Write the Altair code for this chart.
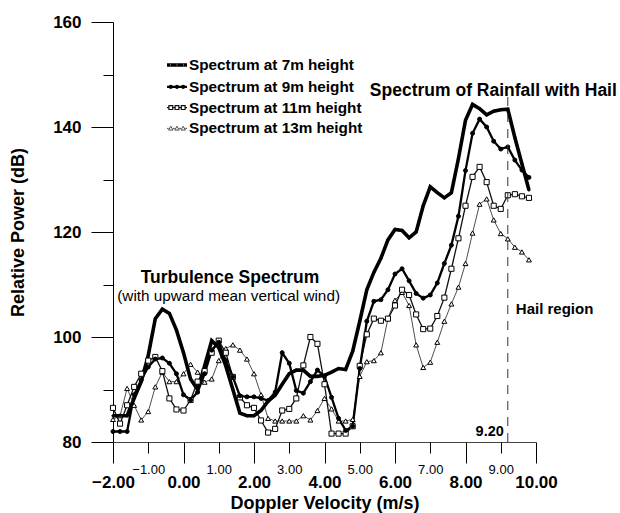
import altair as alt
import pandas as pd

# ---- data ----
velocity = [-2.0, -1.8, -1.6, -1.4, -1.2, -1.0, -0.8, -0.6, -0.4, -0.2,
            0.0, 0.2, 0.4, 0.6, 0.8, 1.0, 1.2, 1.4, 1.6, 1.8,
            2.0, 2.2, 2.4, 2.6, 2.8, 3.0, 3.2, 3.4, 3.6, 3.8,
            4.0, 4.2, 4.4, 4.6, 4.8, 5.0, 5.2, 5.4, 5.6, 5.8,
            6.0, 6.2, 6.4, 6.6, 6.8, 7.0, 7.2, 7.4, 7.6, 7.8,
            8.0, 8.2, 8.4, 8.6, 8.8, 9.0, 9.2, 9.4, 9.6, 9.8]

power_7m = [85, 85, 85, 88.3, 91.5, 96.5, 103.5, 105.3, 104.5, 101.3,
            97, 92, 90, 94.5, 99.3, 98, 94.5, 90, 85.5, 85,
            85, 86, 87.8, 88.9, 91, 93, 93.7, 93.7, 92.5, 92.5,
            92.7, 93.3, 94, 93.8, 97.3, 103, 109, 112.3, 115, 118.5,
            120.5, 120.3, 118.9, 120, 125, 128.6, 127.5, 126.5, 127.5, 134,
            141.3, 144.3, 143.5, 142.3, 143, 143.3, 143.4, 138, 133, 128]

power_9m = [82, 82, 82, 89, 91.8, 94.3, 95.8, 96, 95, 93,
            89, 88, 89.5, 93, 97.5, 99, 95.5, 92.4, 88.8, 88.6,
            88.6, 88.3, 87.9, 89.5, 97, 95, 89.8, 89.3, 91.5, 93.7,
            92.5, 88.5, 84.5, 82.2, 83, 94, 103, 106.8, 107.1, 109,
            112, 113, 110.7, 108.3, 107.4, 108, 110.3, 114, 117.5, 123,
            131.7, 138.8, 141.5, 140, 137.3, 135.8, 136.2, 133.7, 131.8, 130.4]

power_11m = [86.5, 83.5, 87, 90.5, 93, 95.5, 96.2, 93.5, 88.3, 86.2,
             86, 88, 91.5, 93.5, 97, 99.3, 97, 92.4, 88.5, 87,
             86.5, 84.1, 81.8, 82.5, 86, 86.3, 88.3, 94.6, 100, 98.7,
             91, 81.6, 81.6, 81.6, 83, 94.5, 100.5, 103.5, 103.1, 103.5,
             106, 109, 108, 104.3, 101.5, 101.6, 104, 107.5, 113, 118.8,
             125, 130.5, 132.4, 129.5, 125, 124.4, 127, 127.2, 126.8, 126.5]

power_13m = [84.3, 85, 90.2, 87, 84.2, 85.8, 90.5, 93.3, 91.5, 91.5,
             93, 94.8, 93.3, 91.4, 92, 95.5, 97.8, 98.5, 97.5, 95.8,
             93, 89, 84.5, 84, 84, 84, 84, 85, 84.2, 86,
             88.3, 86.3, 84, 84, 84.3, 92.5, 95.3, 95.5, 97, 103.5,
             107, 108.5, 106, 98.5, 94.2, 95.2, 99, 103, 106.3, 109.5,
             114, 119.8, 125.3, 126.3, 122.3, 119.7, 118.7, 117.1, 116.2, 114.7]

series_names = ["Spectrum at 7m height", "Spectrum at 9m height",
                "Spectrum at 11m height", "Spectrum at 13m height"]
x_ticks_major = [-2, 0, 2, 4, 6, 8, 10]
x_ticks_minor = [-1, 1, 3, 5, 7, 9]
y_ticks = [80, 90, 100, 110, 120, 130, 140, 150, 160]

series_values = [power_7m, power_9m, power_11m, power_13m]
rows = []
# 13 m first so that the 7 m curve is drawn on top
for name, vals in reversed(list(zip(series_names, series_values))):
    for v, p in zip(velocity, vals):
        rows.append({"velocity": v, "power": p, "series": name})
df = pd.DataFrame(rows)
one = pd.DataFrame({"_": [0]})

FONT = "Liberation Sans"

# ---- styles ----
line_colors = ["#000000", "#000000", "#111111", "#3a3a3a"]
line_widths = [3.6, 2.3, 1.3, 0.9]
point_shapes = ["circle", "circle", "square", "triangle-up"]
point_fills = ["#000000", "#000000", "#ffffff", "#ffffff"]
point_sizes = [5, 16, 26, 24]
MX = (-0.62, 0.0, 0.62)


def joined(h, marker):
    segs = [(-1.0, MX[0] - h), (MX[0] + h, MX[1] - h), (MX[1] + h, MX[2] - h), (MX[2] + h, 1.0)]
    line = "".join(f"M{a:.3f},0H{b:.3f}" for a, b in segs)
    return line + "".join(marker(x, h) for x in MX)


def circle(x, r):
    return f"M{x - r:.3f},0A{r},{r} 0 1,0 {x + r:.3f},0A{r},{r} 0 1,0 {x - r:.3f},0Z"


def square(x, h):
    return f"M{x - h:.3f},{-h}H{x + h:.3f}V{h}H{x - h:.3f}Z"


def triangle(x, h):
    return f"M{x:.3f},{-h}L{x + h:.3f},{h * 0.75:.3f}L{x - h:.3f},{h * 0.75:.3f}Z"


legend_paths = [joined(0.02, circle), joined(0.1, circle), joined(0.19, square), joined(0.22, triangle)]
legend_widths = [3.6, 2.3, 1.2, 0.9]

x_scale = alt.Scale(domain=[-2, 10], nice=False, zero=False)
y_scale = alt.Scale(domain=[80, 160], nice=False, zero=False)

x_axis_major = alt.Axis(
    values=x_ticks_major, format=".2f", title="Doppler Velocity (m/s)", grid=False,
    orient="bottom",
    labelFont=FONT, labelColor="black", labelFontSize=17, labelFontWeight="bold",
    labelPadding=11, tickSize=21,
    tickColor="black", tickWidth=1, domainColor="#444444", domainWidth=1,
    labelFlush=False, labelOverlap=False,
    titleFont=FONT, titleFontSize=18, titleFontWeight="bold", titleColor="black",
    titlePadding=4)

x_axis_minor = alt.Axis(
    values=x_ticks_minor, format=".2f", title=None, grid=False, orient="bottom",
    labelFont=FONT, labelColor="black", labelFontSize=13, labelFontWeight="normal",
    labelPadding=10, tickSize=11, domain=False,
    tickColor="black", tickWidth=1, labelFlush=False, labelOverlap=False)

y_axis = alt.Axis(
    values=y_ticks, format="d", title="Relative Power (dB)", grid=False,
    labelExpr="datum.value % 20 == 0 ? datum.label : ''",
    labelFont=FONT, labelFontSize=17, labelFontWeight="bold", labelColor="black",
    labelPadding=10,
    tickSize={"condition": {"test": "datum.value % 20 == 0", "value": 22}, "value": 10},
    tickColor="black", tickWidth=1, domainColor="black", domainWidth=1,
    labelOverlap=False,
    titleFont=FONT, titleFontSize=18, titleFontWeight="bold", titleColor="black",
    titlePadding=25)

legend = alt.Legend(orient="none", legendX=52, legendY=31, title=None,
                    symbolSize=400, labelFont=FONT, labelFontSize=15.3,
                    labelFontWeight="bold", labelColor="black", rowPadding=1.3,
                    labelOffset=0, padding=0, labelLimit=400)

Y = alt.Y("power:Q", scale=y_scale, axis=y_axis)
X_major = alt.X("velocity:Q", scale=x_scale, axis=x_axis_major)
X_minor = alt.X("velocity:Q", scale=x_scale, axis=x_axis_minor)
X_plain = alt.X("velocity:Q", scale=x_scale, axis=None)

lines = alt.Chart(df).mark_line(clip=False).encode(
    x=X_major, y=Y,
    stroke=alt.Stroke("series:N", scale=alt.Scale(domain=series_names, range=line_colors), legend=None),
    strokeWidth=alt.StrokeWidth("series:N",
                                scale=alt.Scale(type="ordinal", domain=series_names, range=line_widths),
                                legend=None),
)

points = alt.Chart(df).mark_point(opacity=1, stroke="black", strokeWidth=1).encode(
    x=X_minor, y=Y,
    shape=alt.Shape("series:N", scale=alt.Scale(domain=series_names, range=point_shapes), legend=None),
    fill=alt.Fill("series:N", scale=alt.Scale(domain=series_names, range=point_fills), legend=None),
    size=alt.Size("series:N", scale=alt.Scale(type="ordinal", domain=series_names, range=point_sizes),
                  legend=None),
)

legend_layer = alt.Chart(df).transform_filter("false").mark_point(opacity=1).encode(
    x=X_plain, y=Y,
    shape=alt.Shape("series:N", scale=alt.Scale(domain=series_names, range=legend_paths), legend=legend),
    fill=alt.Fill("series:N", scale=alt.Scale(domain=series_names, range=point_fills), legend=legend),
    stroke=alt.Stroke("series:N", scale=alt.Scale(domain=series_names, range=line_colors), legend=legend),
    strokeWidth=alt.StrokeWidth("series:N",
                                scale=alt.Scale(type="ordinal", domain=series_names, range=legend_widths),
                                legend=legend),
)

hail_rule = alt.Chart(one).mark_rule(strokeDash=[9, 7], color="#333333", strokeWidth=1).encode(
    x=alt.X(datum=9.2, scale=x_scale, axis=None), y=alt.datum(80), y2=alt.datum(146))


def label(text, x, y, size, weight="bold", align="center", dx=0):
    return alt.Chart(one).mark_text(
        text=text, font=FONT, fontSize=size, fontWeight=weight, align=align,
        baseline="middle", color="black", dx=dx).encode(
        x=alt.X(datum=x, scale=x_scale, axis=None), y=alt.datum(y))


annotations = [
    label("Spectrum of Rainfall with Hail", 8.79, 146.8, 17.5),
    label("Turbulence Spectrum", 1.32, 111.2, 17.5),
    label("(with upward mean vertical wind)", 1.28, 107.9, 15.3, weight="normal"),
    label("Hail region", 9.2, 105.4, 15, align="left", dx=8),
    label("9.20", 9.2, 81.9, 14.5, align="right", dx=-4),
]

chart = alt.layer(lines, points, legend_layer, hail_rule, *annotations).resolve_axis(
    x="independent"
).resolve_scale(
    shape="independent", fill="independent", stroke="independent",
    strokeWidth="independent", size="independent"
).properties(
    width=423, height=420,
    padding={"left": 113, "top": 22, "right": 84, "bottom": 71},
    autosize=alt.AutoSizeParams(type="none"),
    background="white",
).configure_view(stroke=None)

chart.save("out.html", embed_options={"renderer": "svg", "actions": False})
